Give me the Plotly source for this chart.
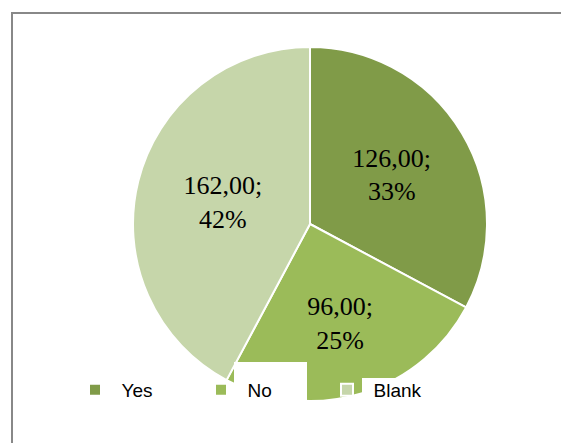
import plotly.graph_objects as go

categories = ["Yes", "No", "Blank"]
values = [126, 96, 162]
colors = ["#809B48", "#9BBB59", "#C6D6AA"]

W, H = 561, 443

def px(x):
    return x / W

def py(y):
    return 1 - y / H

fig = go.Figure()
fig.add_trace(go.Pie(
    labels=categories,
    values=values,
    sort=False,
    direction="clockwise",
    rotation=0,
    marker=dict(colors=colors, line=dict(color="white", width=2)),
    texttemplate="%{value:.2f};<br>%{percent:.0%}",
    textposition="inside",
    insidetextorientation="horizontal",
    textfont=dict(family="Liberation Serif", size=26, color="black"),
    domain=dict(x=[px(133), px(487)], y=[py(401), py(47)]),
    hoverinfo="skip",
))

frame_path = "M {x0},{yb} L {x0},{yt} L {xr},{yt}".format(
    x0=px(12), yb=py(443), yt=py(13), xr=1.0
)

shapes = [
    # chart frame (left and top edges; the rest lies outside the picture)
    dict(type="path", xref="paper", yref="paper", path=frame_path,
         line=dict(color="#888888", width=2), layer="above"),
    # white label boxes of the legend
    dict(type="rect", xref="paper", yref="paper", x0=px(234), x1=px(307), y0=py(412), y1=py(362),
         line=dict(width=0), fillcolor="white", layer="above"),
    dict(type="rect", xref="paper", yref="paper", x0=px(362), x1=px(450), y0=py(412), y1=py(378),
         line=dict(width=0), fillcolor="white", layer="above"),
]

fig.update_layout(
    width=W, height=H,
    margin=dict(l=0, r=0, t=0, b=0),
    paper_bgcolor="white",
    separators=",.",
    showlegend=True,
    legend=dict(
        orientation="h",
        x=px(68.5), xanchor="left",
        y=py(390), yanchor="middle",
        bgcolor="rgba(0,0,0,0)",
        font=dict(family="Liberation Sans", size=19, color="black"),
        itemwidth=43,
        entrywidth=68,
        traceorder="normal",
    ),
    shapes=shapes,
)

fig.write_html(
    "out.html",
    config={"displayModeBar": False},
    post_script="document.body.style.margin='0';document.body.style.overflow='hidden';",
)
